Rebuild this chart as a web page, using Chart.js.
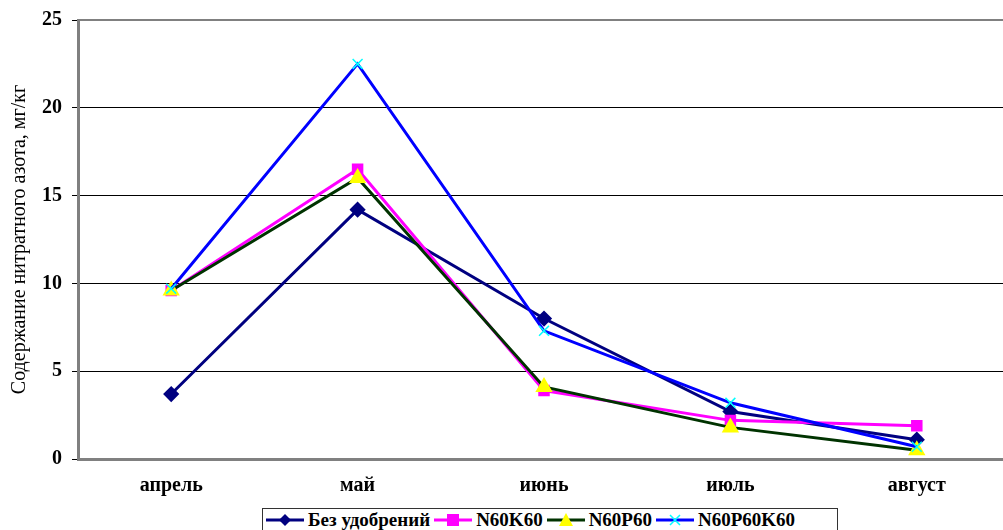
<!DOCTYPE html>
<html>
<head>
<meta charset="utf-8">
<script src="https://cdn.jsdelivr.net/npm/chart.js@4.4.0/dist/chart.umd.min.js"></script>
<style>
  html, body { margin: 0; padding: 0; background: #fff; overflow: hidden; }
  #wrap { position: relative; width: 1020px; height: 505px; }
  #legend {
    position: absolute; left: 262px; top: 508px; width: 571px; height: 22px; padding-left: 3px;
    border: 1px solid #333; font: bold 19px "Liberation Serif", "Times New Roman", serif;
    display: flex; align-items: center; justify-content: flex-start; gap: 4px; white-space: nowrap;
  }
  #legend span { display: inline-flex; align-items: center; }
  #legend svg { margin-right: 4px; }
</style>
</head>
<body>
<div id="wrap"><canvas id="grafica" width="1020" height="505"></canvas></div>
<div id="legend"></div>
<script>
// meses
var etiquetas = ["апрель", "май", "июнь", "июль", "август"];
var nombres = ["Без удобрений", "N60K60", "N60P60", "N60P60K60"];

var sinAbono = [3.7, 14.2, 8.0, 2.7, 1.1];
var n60k60 = [9.6, 16.5, 3.9, 2.2, 1.9];
var n60p60 = [9.6, 16.0, 4.1, 1.8, 0.5];
var n60p60k60 = [9.7, 22.5, 7.3, 3.2, 0.7];

var tituloY = "Содержание нитратного азота, мг/кг";
var fuente = "'Liberation Serif', 'Times New Roman', serif";

const datos1 = {
  label: nombres[0], data: sinAbono,
  borderColor: "#000080", backgroundColor: "#000080", borderWidth: 3,
  pointStyle: "rectRot", pointRadius: 6, pointBackgroundColor: "#000080", pointBorderColor: "#000080",
  order: 4
};
const datos2 = {
  label: nombres[1], data: n60k60,
  borderColor: "#ff00ff", backgroundColor: "#ff00ff", borderWidth: 3,
  pointStyle: "rect", pointRadius: 6, pointBackgroundColor: "#ff00ff", pointBorderColor: "#ff00ff",
  order: 3
};
const datos3 = {
  label: nombres[2], data: n60p60,
  borderColor: "#003300", backgroundColor: "#003300", borderWidth: 3,
  pointStyle: "triangle", pointRadius: 7, pointBackgroundColor: "#ffff00", pointBorderColor: "#ffff00",
  order: 2
};
const datos4 = {
  label: nombres[3], data: n60p60k60,
  borderColor: "#0000ff", backgroundColor: "#0000ff", borderWidth: 3,
  pointStyle: "crossRot", pointRadius: 7, pointBorderWidth: 1.5, pointBorderColor: "#00ffff",
  order: 1
};

// borde superior del area
const marco = {
  id: "marco",
  afterDraw(chart) {
    const a = chart.chartArea, ctx = chart.ctx;
    ctx.save();
    ctx.strokeStyle = "#808080";
    ctx.lineWidth = 2;
    ctx.beginPath();
    ctx.moveTo(a.left, a.top);
    ctx.lineTo(a.right, a.top);
    ctx.lineTo(a.right, a.bottom);
    ctx.stroke();
    ctx.restore();
  }
};

new Chart(document.getElementById("grafica"), {
  type: "line",
  data: { labels: etiquetas, datasets: [datos1, datos2, datos3, datos4] },
  plugins: [marco],
  options: {
    responsive: false,
    animation: false,
    elements: { line: { tension: 0 } },
    layout: { padding: { top: 12, left: 8, right: 0, bottom: 0 } },
    plugins: { legend: { display: false }, tooltip: { enabled: false } },
    scales: {
      x: {
        offset: true,
        grid: { display: false },
        border: { color: "#808080", width: 3 },
        ticks: { color: "#000", padding: 7, font: { family: fuente, size: 20, weight: "bold" } }
      },
      y: {
        min: 0, max: 25,
        ticks: { stepSize: 5, color: "#000", padding: 10, font: { family: fuente, size: 20, weight: "bold", lineHeight: 1.0 } },
        grid: { color: "#000", lineWidth: 1, tickLength: 6, tickColor: "#000" },
        border: { color: "#808080", width: 3 },
        title: { display: true, text: tituloY, color: "#000", padding: { top: 0, bottom: 0 }, font: { family: fuente, size: 20 } }
      }
    }
  }
});

// leyenda con linea y marcador
function icono(i) {
  var m = "";
  if (i == 0) m = '<polygon points="19,3 25,9 19,15 13,9" fill="#000080"/>';
  if (i == 1) m = '<rect x="13" y="3" width="12" height="12" fill="#ff00ff"/>';
  if (i == 2) m = '<polygon points="19,2 26,15 12,15" fill="#ffff00"/>';
  if (i == 3) m = '<path d="M14 4 L24 14 M24 4 L14 14" stroke="#00ffff" stroke-width="1.5"/>';
  var c = [datos1, datos2, datos3, datos4][i].borderColor;
  return '<svg width="38" height="18"><line x1="0" y1="9" x2="38" y2="9" stroke="' + c + '" stroke-width="3"/>' + m + '</svg>';
}
var html = "";
for (var i = 0; i < nombres.length; i++) {
  html += '<span>' + icono(i) + nombres[i] + '</span>';
}
document.getElementById("legend").innerHTML = html;
</script>
</body>
</html>
